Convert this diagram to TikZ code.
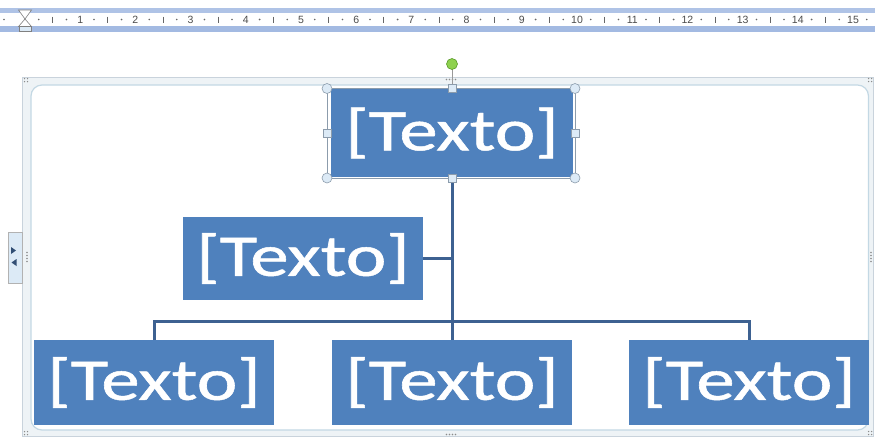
\documentclass[tikz,border=0pt]{standalone}
\usepackage{fontspec}
\setmainfont{Carlito}
\newfontfamily\boxfont[FakeBold=0.8]{Carlito}
\newfontfamily\rulerfont{Liberation Sans}
\usepackage{graphicx}
\definecolor{boxblue}{HTML}{4F81BD}
\definecolor{connblue}{HTML}{3D6191}
\definecolor{rulerband}{HTML}{AFC3E6}
\definecolor{rulerband2}{HTML}{A3BAE2}
\definecolor{framegray}{HTML}{C9D3DC}
\definecolor{frameband}{HTML}{EEF3F6}
\definecolor{frameinner}{HTML}{C3D8E4}
\definecolor{handlefill}{HTML}{DCEAF6}
\definecolor{handledraw}{HTML}{8C9CAC}
\definecolor{rotgreen}{HTML}{8ED14E}
\definecolor{rotdraw}{HTML}{5A9A2A}
\newcommand{\bxtext}[1]{\scalebox{1.3}[1]{#1}}
\begin{document}
\begin{tikzpicture}[x=1pt,y=-1pt,
  box/.style={fill=boxblue, minimum width=240pt, minimum height=85pt, inner sep=0pt,
    text=white, font=\boxfont\fontsize{59}{62}\selectfont},
  conn/.style={draw=connblue, line width=3pt},
  rnum/.style={font=\rulerfont\fontsize{10.5}{11}\selectfont, text=black!70, inner sep=0pt},
  cornerhandle/.style={fill=handlefill, draw=handledraw, line width=0.6pt},
  sidehandle/.style={fill=handlefill, draw=handledraw, line width=0.6pt},
  fdot/.style={fill=black!45}]
\useasboundingbox (0,0) rectangle (875,437);
% ruler
\fill[rulerband] (0,8) rectangle (875,12.5);
\fill[white] (0,12.5) rectangle (875,26);
\fill[rulerband2] (0,26) rectangle (875,32);
\foreach \n in {1,...,15} \node[rnum] (r\n) at ({25+55.2*\n},19.5) {\n};
\foreach \n in {0,...,14} {
  \fill[black!60] ({25+55.2*\n+13.8},19.5) circle (0.9);
  \draw[black!60, line width=0.8pt] ({25+55.2*\n+27.6},16.5) -- ({25+55.2*\n+27.6},22.5);
  \fill[black!60] ({25+55.2*\n+41.4},19.5) circle (0.9);
}
\fill[black!60] ({25+55.2*15+13.8},19.5) circle (0.9);
\fill[black!60] (4,19.5) circle (0.9);
% hourglass marker
\filldraw[fill=white, draw=black!50, line width=0.6pt] (18.5,10) -- (31.5,10) -- (25,19) -- cycle;
\filldraw[fill=white, draw=black!50, line width=0.6pt] (25,19) -- (31.5,26.5) -- (18.5,26.5) -- cycle;
\filldraw[fill=handlefill, draw=black!50, line width=0.6pt] (19,26.5) rectangle (31,31.5);
% drawing frame
\filldraw[fill=frameband, draw=framegray, line width=0.8pt] (22.5,77) rectangle (873.5,436);
\filldraw[fill=white, draw=frameinner, line width=1.2pt, rounded corners=11pt] (31,85) rectangle (868.5,430);
% left tab
\filldraw[fill=handlefill, draw=black!30, line width=0.6pt] (8,232) rectangle (22.5,283);
\fill[connblue!80!black] (11,247) -- (16,250.5) -- (11,254) -- cycle;
\fill[connblue!80!black] (16.5,259) -- (11.5,262.5) -- (16.5,266) -- cycle;
% frame sizing dots
\foreach \i in {0,1,2,3} {
  \fill[fdot] ({446.5+3*\i},79.5) circle (0.8);
  \fill[fdot] ({446.5+3*\i},434.5) circle (0.8);
  \fill[fdot] (27,{252.5+3*\i}) circle (0.8);
  \fill[fdot] (871,{252.5+3*\i}) circle (0.8);
}
\foreach \cx/\cy in {26/80, 870/80, 26/433, 870/433} {
  \fill[fdot] (\cx-1.5,\cy-1.5) circle (0.75);
  \fill[fdot] (\cx+1.5,\cy-1.5) circle (0.75);
  \fill[fdot] (\cx-1.5,\cy+1.5) circle (0.75);
  \fill[fdot] (\cx+1.5,\cy+1.5) circle (0.75);
}
% boxes
\node[box, minimum width=242pt, minimum height=88pt] (top) at (452,133) {\bxtext{[Texto]}};
\node[box, minimum height=83pt] (asst) at (303,258.5) {\bxtext{[Texto]}};
\node[box] (c1) at (154,382.5) {\bxtext{[Texto]}};
\node[box] (c2) at (452,382.5) {\bxtext{[Texto]}};
\node[box] (c3) at (749,382.5) {\bxtext{[Texto]}};
% connectors
\coordinate (bar) at (452,321.5);
\draw[conn] (top.south) -- (c2.north);
\draw[conn] (asst.east) -- (asst.east -| top.south);
\draw[conn] (c1.north) |- (bar) -| (c3.north);
% selection of top box
\draw[handledraw, line width=0.6pt] (327,88.5) rectangle (575,178);
\coordinate (rot) at (452,64);
\draw[black!40, line width=1pt] (rot) -- (452,85);
\filldraw[fill=rotgreen, draw=rotdraw, line width=0.6pt] (rot) circle (5.5);
\foreach \hx/\hy in {327/88.5, 575/88.5, 327/178, 575/178}
  \filldraw[cornerhandle] (\hx,\hy) circle (5);
\foreach \hx/\hy in {452/88.5, 327/133, 575/133, 452/178}
  \filldraw[sidehandle] (\hx-4,\hy-4) rectangle (\hx+4,\hy+4);
\end{tikzpicture}
\end{document}
